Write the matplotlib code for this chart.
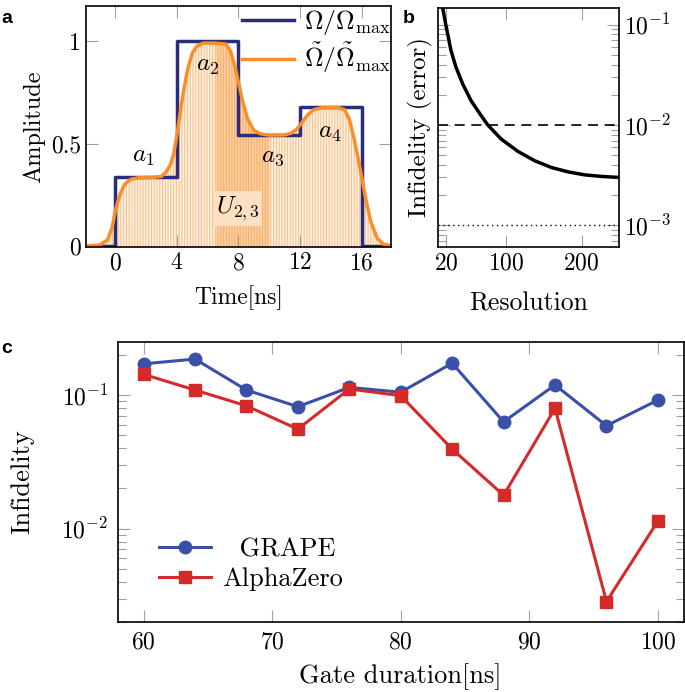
import matplotlib
matplotlib.use("Agg")
import matplotlib.pyplot as plt
from matplotlib.ticker import LogLocator, NullFormatter

plt.rcParams['font.family'] = 'serif'
plt.rcParams['font.serif'] = ['cmr10']
plt.rcParams['mathtext.fontset'] = 'cm'
plt.rcParams['axes.formatter.use_mathtext'] = True
plt.rcParams['axes.unicode_minus'] = False
plt.rcParams['hatch.linewidth'] = 0.9

# panel a data
edges = [-2, 0, 4, 8, 12, 16, 18]
step_amp = [0, 0.338, 1.0, 0.541, 0.68, 0, 0]
t_smooth = [-2.0, -1.0, -0.5, -0.2, 0.0, 0.3, 0.6, 1.0, 1.5, 2.5, 3.0, 3.3, 3.6, 3.8, 4.0,
            4.2, 4.4, 4.7, 5.0, 5.3, 5.7, 6.5, 7.2, 7.5, 7.8, 8.0, 8.3, 8.6, 9.0, 9.4,
            10.0, 11.0, 11.4, 11.8, 12.1, 12.5, 12.9, 13.4, 14.5, 14.9, 15.2, 15.5, 15.8,
            16.0, 16.3, 16.6, 17.0, 17.4, 18.0]
amp_smooth = [0.0, 0.005, 0.03, 0.09, 0.17, 0.25, 0.30, 0.325, 0.333, 0.335, 0.34, 0.36, 0.40,
              0.45, 0.54, 0.64, 0.74, 0.86, 0.94, 0.975, 0.99, 0.99, 0.985, 0.95, 0.87, 0.80,
              0.70, 0.62, 0.565, 0.548, 0.541, 0.542, 0.55, 0.57, 0.60, 0.64, 0.665, 0.675,
              0.675, 0.665, 0.62, 0.53, 0.42, 0.34, 0.22, 0.12, 0.04, 0.01, 0.0]
seg_labels = [r'$a_1$', r'$a_2$', r'$a_3$', r'$a_4$']
seg_pos = [(1.85, 0.435), (6.0, 0.88), (10.2, 0.435), (13.95, 0.55)]

# panel b data
resolution = [15.6, 20, 26.7, 33.3, 42.2, 53.3, 66.7, 75.6, 93.3, 115.6, 137.8, 160, 182,
              204.4, 226.7, 250]
infid_res = [0.148, 0.0984, 0.0553, 0.0377, 0.0257, 0.0175, 0.0124, 0.0100, 0.00724, 0.00545,
             0.0044, 0.00377, 0.00341, 0.00318, 0.00307, 0.0030]
thr_dashed = 1e-2
thr_dotted = 1e-3

# panel c data
duration = [60, 64, 68, 72, 76, 80, 84, 88, 92, 96, 100]
grape = [0.171, 0.186, 0.109, 0.0818, 0.114, 0.105, 0.173, 0.063, 0.119, 0.0589, 0.0917]
alphazero = [0.143, 0.109, 0.083, 0.0556, 0.111, 0.0989, 0.0394, 0.0178, 0.0794, 0.00285, 0.0114]

navy = '#2b2d7c'
orange = '#f98f2a'
blue = '#3a4fa8'
red = '#d42a2a'
tickc = '#a0a0a0'
fs = 17

fig = plt.figure(figsize=(6.85, 6.92), dpi=100)
axa = fig.add_axes([0.1255, 0.643, 0.445, 0.348])
axb = fig.add_axes([0.640, 0.643, 0.264, 0.346])
axc = fig.add_axes([0.172, 0.101, 0.826, 0.405])

# ---- a
axa.fill_between(t_smooth, amp_smooth, color='#fff4e8', edgecolor='#f8c48f',
                 hatch='||||||', linewidth=0)
axa.fill_between(t_smooth, amp_smooth, where=[6 <= t <= 10 for t in t_smooth],
                 color=orange, alpha=0.35, linewidth=0)
axa.step(edges, step_amp, where='post', color=navy, lw=2.5, label=r'$\Omega/\Omega_{\max}$')
axa.plot(t_smooth, amp_smooth, color=orange, lw=2.5,
         label=r'$\tilde{\Omega}/\tilde{\Omega}_{\max}$')
for lab, (x, y) in zip(seg_labels, seg_pos):
    axa.text(x, y, lab, fontsize=18, ha='center', va='center')
axa.text(7.95, 0.183, r'$U_{2,3}$', fontsize=18, ha='center', va='center',
         bbox=dict(facecolor='#fde0c2', edgecolor='none', pad=2))
axa.set_xlim(-1.9, 17.9)
axa.set_ylim(-0.005, 1.17)
axa.set_xticks([0, 4, 8, 12, 16])
axa.set_yticks([0, 0.5, 1])
axa.set_yticklabels(['0', '0.5', '1'])
axa.set_xlabel('Time[ns]', fontsize=fs, labelpad=8)
axa.set_ylabel('Amplitude', fontsize=17.5)
axa.legend(loc='upper right', bbox_to_anchor=(1.075, 1.09), frameon=False, fontsize=18.5,
           handlelength=2.0, handletextpad=0.4, labelspacing=0.15)

# ---- b
axb.semilogy(resolution, infid_res, color='black', lw=2.5)
axb.axhline(thr_dashed, color='black', lw=1.2, ls=(0, (6, 4)))
axb.axhline(thr_dotted, color='black', lw=1.0, ls=(0, (1, 2.5)))
axb.set_xlim(10, 250)
axb.set_ylim(6.07e-4, 0.148)
axb.set_xticks([20, 100, 200])
axb.yaxis.set_major_locator(LogLocator(base=10, numticks=10))
axb.yaxis.set_minor_locator(LogLocator(base=10, subs=range(2, 10), numticks=20))
axb.yaxis.set_minor_formatter(NullFormatter())
axb.tick_params(axis='y', which='both', left=True, right=True, labelleft=False, labelright=True)
axb.yaxis.set_label_position('left')
axb.set_xlabel('Resolution', fontsize=18.5, labelpad=13)
axb.set_ylabel('Infidelity (error)', fontsize=18)

# ---- c
axc.semilogy(duration, grape, color=blue, lw=2.2, marker='o', ms=9, label='  GRAPE')
axc.semilogy(duration, alphazero, color=red, lw=2.2, marker='s', ms=8.5, label='AlphaZero')
axc.set_xlim(58, 102)
axc.set_ylim(0.002, 0.25)
axc.set_xticks([60, 70, 80, 90, 100])
axc.yaxis.set_minor_locator(LogLocator(base=10, subs=range(2, 10), numticks=20))
axc.yaxis.set_minor_formatter(NullFormatter())
axc.set_xlabel('Gate duration[ns]', fontsize=19, labelpad=7)
axc.set_ylabel('Infidelity', fontsize=19, labelpad=19)
axc.legend(loc='lower left', bbox_to_anchor=(0.03, 0.025), frameon=False, fontsize=19,
           handlelength=2.0, handletextpad=0.4, labelspacing=0.25)

for ax in (axa, axb, axc):
    ax.tick_params(which='both', direction='in', color=tickc, top=True, right=True,
                   labelsize=fs)
    ax.tick_params(which='major', length=8.5, width=0.8)
    ax.tick_params(which='minor', length=5.5, width=0.8)
    for s in ax.spines.values():
        s.set_linewidth(1.2)
axc.tick_params(which='both', pad=7)

fig.text(0.002, 0.985, 'a', fontsize=14, fontweight='bold', family='Liberation Sans', va='top')
fig.text(0.588, 0.985, 'b', fontsize=14, fontweight='bold', family='Liberation Sans', va='top')
fig.text(0.002, 0.508, 'c', fontsize=14, fontweight='bold', family='Liberation Sans', va='top')

fig.savefig('out.png', dpi=100)
